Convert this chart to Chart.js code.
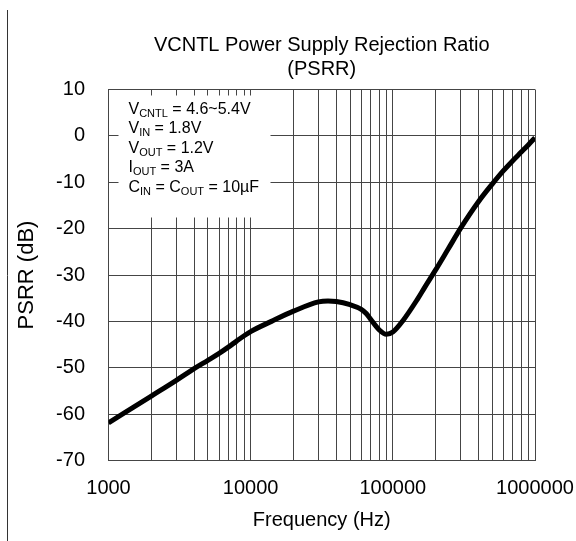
<!DOCTYPE html>
<html>
<head>
<meta charset="utf-8">
<script src="https://cdn.jsdelivr.net/npm/chart.js@4.4.0/dist/chart.umd.min.js"></script>
<style>
  html, body { margin: 0; padding: 0; background: #fff; }
  #wrap { width: 576px; height: 541px; }
</style>
</head>
<body>
<div id="wrap"><canvas id="psrrChart" width="576" height="541"></canvas></div>
<script>
// curve (Hz, dB)
const frequencies = [1000, 2000, 3000, 4000, 5000, 6000, 7000, 8000, 9000, 10000,
  14000, 20000, 30000, 35000, 40000, 50000, 60000, 65000, 70000, 80000, 90000,
  100000, 118000, 147000, 168000, 200000, 245000, 300000, 400000, 500000,
  600000, 700000, 800000, 900000, 1000000];
const psrrDb = [-61.9, -56.1, -52.7, -50.2, -48.4, -46.9, -45.5, -44.2, -43.1, -42.2,
  -40.0, -37.8, -35.8, -35.6, -35.7, -36.4, -37.4, -38.3, -39.6, -41.8, -42.8,
  -42.3, -39.8, -35.5, -32.6, -28.9, -24.4, -19.9, -14.2, -10.4,
  -7.5, -5.3, -3.5, -1.9, -0.4];

const decades = [1000, 10000, 100000, 1000000];
const minorSteps = [1, 2, 3, 4, 5, 6, 7, 8, 9];
const yTicks = [-70, -60, -50, -40, -30, -20, -10, 0, 10];

const titleLines = ['VCNTL Power Supply Rejection Ratio', '(PSRR)'];
const xTitle = 'Frequency (Hz)';
const yTitle = 'PSRR (dB)';

// each line: [text, isSubscript]
const conditions = [
  [['V', false], ['CNTL', true], [' = 4.6~5.4V', false]],
  [['V', false], ['IN', true], [' = 1.8V', false]],
  [['V', false], ['OUT', true], [' = 1.2V', false]],
  [['I', false], ['OUT', true], [' = 3A', false]],
  [['C', false], ['IN', true], [' = C', false], ['OUT', true], [' = 10µF', false]]
];

const FONT = "'Liberation Sans', Arial, sans-serif";
const GRID = '#454545';

// all log grid positions: 1000, 2000 ... 9000, 10000 ...
const xGridValues = [];
decades.forEach(d => {
  if (d === decades[decades.length - 1]) { xGridValues.push(d); return; }
  minorSteps.forEach(m => xGridValues.push(d * m));
});

const extras = {
  id: 'extras',
  beforeDatasetsDraw(chart) {
    const { ctx, chartArea } = chart;
    // white box behind the test conditions (hides the grid there)
    ctx.save();
    ctx.fillStyle = '#fff';
    ctx.fillRect(chartArea.left + 10, chartArea.top + 6, 152, 122);

    ctx.fillStyle = '#000';
    ctx.textBaseline = 'middle';
    ctx.textAlign = 'left';
    let y = chartArea.top + 20;
    conditions.forEach(line => {
      let x = chartArea.left + 20;
      line.forEach(([txt, sub]) => {
        ctx.font = (sub ? '11px ' : '16px ') + FONT;
        ctx.fillText(txt, x, sub ? y + 4 : y);
        x += ctx.measureText(txt).width;
      });
      y += 19.5;
    });
    ctx.restore();
  },
  afterDraw(chart) {
    const { ctx, chartArea } = chart;
    ctx.save();
    // title, two lines
    ctx.fillStyle = '#000';
    ctx.font = '20px ' + FONT;
    ctx.textAlign = 'center';
    ctx.textBaseline = 'middle';
    const cx = (chartArea.left + chartArea.right) / 2;
    titleLines.forEach((t, i) => ctx.fillText(t, cx, 45 + i * 24));

    // thin rule down the left edge
    ctx.strokeStyle = '#333';
    ctx.lineWidth = 1;
    ctx.beginPath();
    ctx.moveTo(7.5, 10);
    ctx.lineTo(7.5, 541);
    ctx.stroke();
    ctx.restore();
  }
};

new Chart(document.getElementById('psrrChart').getContext('2d'), {
  type: 'line',
  data: {
    datasets: [{
      label: 'PSRR',
      data: frequencies.map((f, i) => ({ x: f, y: psrrDb[i] })),
      borderColor: '#000',
      borderWidth: 5,
      pointRadius: 0,
      cubicInterpolationMode: 'monotone',
      fill: false
    }]
  },
  options: {
    responsive: false,
    devicePixelRatio: 1,
    animation: false,
    layout: { padding: { top: 89.5, right: 41, left: 0, bottom: 0 } },
    plugins: {
      legend: { display: false },
      tooltip: { enabled: false },
      title: { display: false }
    },
    scales: {
      x: {
        type: 'logarithmic',
        min: 1000,
        max: 1000000,
        afterBuildTicks: (scale) => { scale.ticks = xGridValues.map(v => ({ value: v })); },
        afterFit: (scale) => {
          scale.height = 80.5;
          scale.paddingLeft = 0;
          scale.paddingRight = 0;
        },
        grid: { color: GRID, lineWidth: 1, drawTicks: false },
        border: { color: GRID },
        ticks: {
          autoSkip: false,
          maxRotation: 0,
          padding: 15.5,
          color: '#000',
          font: { family: FONT, size: 20 },
          callback: (value) => decades.includes(value) ? String(value) : ''
        },
        title: {
          display: true,
          text: xTitle,
          color: '#000',
          font: { family: FONT, size: 20 },
          padding: { top: 0, bottom: 9 }
        }
      },
      y: {
        min: -70,
        max: 10,
        afterBuildTicks: (scale) => { scale.ticks = yTicks.map(v => ({ value: v })); },
        afterFit: (scale) => {
          scale.width = 108.5;
          scale.paddingTop = 0;
          scale.paddingBottom = 0;
        },
        grid: { color: GRID, lineWidth: 1, drawTicks: false },
        border: { color: GRID },
        ticks: {
          padding: 23.5,
          color: '#000',
          font: { family: FONT, size: 20 },
          callback: (value) => String(value)
        },
        title: {
          display: true,
          text: yTitle,
          color: '#000',
          font: { family: FONT, size: 22 },
          padding: { top: 14, bottom: 0 }
        }
      }
    }
  },
  plugins: [extras]
});
</script>
</body>
</html>
